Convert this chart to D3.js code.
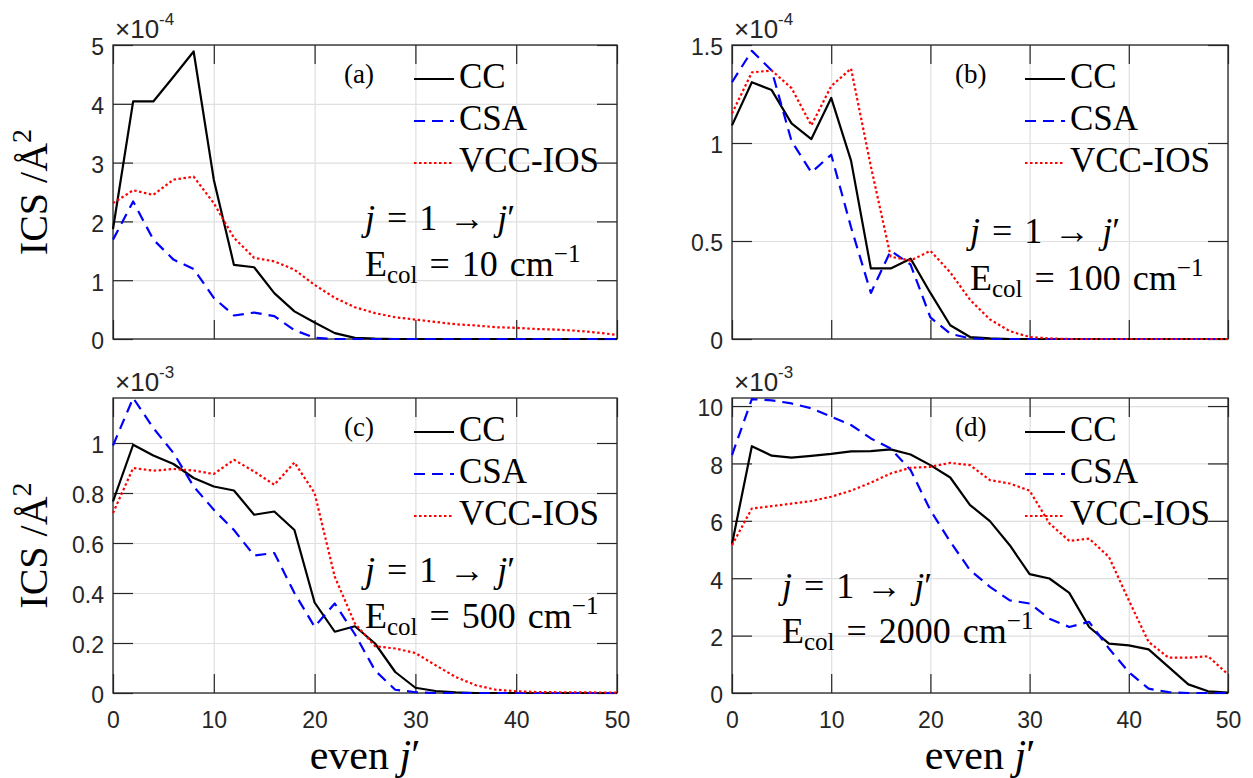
<!DOCTYPE html>
<html><head><meta charset="utf-8">
<script src="https://cdn.jsdelivr.net/npm/d3@7/dist/d3.min.js"></script>
<style>
html,body{margin:0;padding:0;background:#fff;}
svg{display:block;}
text{white-space:pre;}
</style></head><body>
<svg id="chart" width="1253" height="778"></svg>
<script>
// ---------- data ----------
const jEven = [0,2,4,6,8,10,12,14,16,18,20,22,24,26,28,30,32,34,36,38,40,42,44,46,48,50];
const seriesNames = ["CC","CSA","VCC-IOS"];
const panelLabels = ["(a)","(b)","(c)","(d)"];
const energies = ["10","100","500","2000"];
const exponents = ["-4","-4","-3","-3"];
const xTicks = [0,10,20,30,40,50];
const yTicksA = [0,1,2,3,4,5];
const yTicksB = [0,0.5,1,1.5];
const yTicksC = [0,0.2,0.4,0.6,0.8,1];
const yTicksD = [0,2,4,6,8,10];
const yMax = [5, 1.5, 1.18, 10.28];

// panel (a) E=10, x1e-4
const ccA  = [1.87,4.04,4.04,4.46,4.89,2.71,1.26,1.22,0.78,0.47,0.28,0.10,0.02,0.005,0,0,0,0,0,0,0,0,0,0,0,0];
const csaA = [1.69,2.34,1.69,1.35,1.19,0.70,0.40,0.45,0.39,0.15,0.02,0,0,0,0,0,0,0,0,0,0,0,0,0,0,0];
const vccA = [2.31,2.53,2.45,2.71,2.76,2.31,1.72,1.38,1.32,1.18,0.92,0.70,0.54,0.44,0.37,0.33,0.29,0.25,0.23,0.20,0.19,0.17,0.16,0.14,0.11,0.07];
// panel (b) E=100, x1e-4
const ccB  = [1.09,1.31,1.27,1.10,1.02,1.23,0.91,0.36,0.36,0.41,0.235,0.07,0.01,0.003,0,0,0,0,0,0,0,0,0,0,0,0];
const csaB = [1.31,1.47,1.37,1.01,0.85,0.94,0.57,0.235,0.45,0.38,0.11,0.027,0.003,0,0,0,0,0,0,0,0,0,0,0,0,0];
const vccB = [1.15,1.36,1.37,1.28,1.09,1.29,1.38,0.88,0.42,0.40,0.45,0.34,0.20,0.10,0.04,0.01,0.003,0,0,0,0,0,0,0,0,0];
// panel (c) E=500, x1e-3
const ccC  = [0.766,0.993,0.95,0.916,0.86,0.826,0.81,0.713,0.726,0.652,0.362,0.245,0.267,0.198,0.084,0.021,0.008,0.003,0,0,0,0,0,0,0,0];
const csaC = [0.99,1.18,1.06,0.96,0.826,0.733,0.652,0.55,0.56,0.40,0.265,0.358,0.235,0.09,0.013,0.003,0,0,0,0,0,0,0,0,0,0];
const vccC = [0.72,0.90,0.889,0.896,0.89,0.876,0.933,0.886,0.833,0.922,0.80,0.465,0.278,0.187,0.178,0.16,0.111,0.064,0.031,0.013,0.007,0.004,0.003,0.003,0.002,0.002];
// panel (d) E=2000, x1e-3
const ccD  = [5.19,8.6,8.27,8.2,8.26,8.33,8.42,8.43,8.49,8.31,7.94,7.51,6.55,5.99,5.15,4.14,3.99,3.49,2.30,1.72,1.66,1.52,0.91,0.30,0.06,0.01];
const csaD = [8.29,10.24,10.2,10.09,9.92,9.63,9.34,8.87,8.52,7.77,6.37,5.27,4.28,3.70,3.23,3.12,2.59,2.30,2.48,1.55,0.73,0.15,0.03,0,0,0];
const vccD = [5.15,6.43,6.51,6.6,6.69,6.84,7.05,7.33,7.65,7.85,7.88,8.02,7.94,7.42,7.30,7.05,5.91,5.30,5.38,4.74,3.23,1.78,1.23,1.23,1.28,0.65];

// ---------- layout ----------
const W = 1253, H = 778;
const boxes = [
  {l:113, r:617,  t:45,  b:339},
  {l:732, r:1228, t:45,  b:339},
  {l:113, r:617,  t:398, b:693},
  {l:732, r:1228, t:398, b:693}
];
const annot = [ // x offset from left, baselines offset from top
  {dx:252, y1:185, y2:231},
  {dx:238, y1:198, y2:245},
  {dx:252, y1:184, y2:230},
  {dx:50,  y1:200, y2:245}
];
const panels = [
  {series:[ccA,csaA,vccA], ticks:yTicksA},
  {series:[ccB,csaB,vccB], ticks:yTicksB},
  {series:[ccC,csaC,vccC], ticks:yTicksC},
  {series:[ccD,csaD,vccD], ticks:yTicksD}
];
const styles = [
  {color:"#000000", dash:null},
  {color:"#0000ff", dash:"11,7"},
  {color:"#ff0000", dash:"2.5,2.5"}
];
const AX = "#262626", GRID = "#dfdfdf";
const serif = "Liberation Serif, Times New Roman, serif";
const sans = "Liberation Sans, Arial, Helvetica, sans-serif";

const svg = d3.select("#chart");
svg.append("rect").attr("width",W).attr("height",H).attr("fill","#fff");
const fmt = d => String(+d.toFixed(2));

function serifText(sel, size) {
  return sel.attr("font-family", serif).attr("font-size", size).attr("fill", "#000");
}

panels.forEach((p, i) => {
  const bx = boxes[i];
  const w = bx.r - bx.l, h = bx.b - bx.t;
  const x = d3.scaleLinear().domain([0,50]).range([0,w]);
  const y = d3.scaleLinear().domain([0,yMax[i]]).range([h,0]);
  const g = svg.append("g").attr("transform",`translate(${bx.l},${bx.t})`);
  const isBottom = i >= 2, isLeft = i % 2 === 0;

  // grid
  const gx = g.append("g").attr("transform",`translate(0,${h})`)
    .call(d3.axisBottom(x).tickValues(xTicks).tickSize(-h).tickFormat(""));
  const gy = g.append("g")
    .call(d3.axisLeft(y).tickValues(p.ticks).tickSize(-w).tickFormat(""));
  [gx,gy].forEach(a => { a.select(".domain").remove(); a.selectAll("line").attr("stroke",GRID).attr("stroke-width",1.2); });

  // axes with inward ticks
  const left = g.append("g").call(d3.axisLeft(y).tickValues(p.ticks).tickSize(-20).tickSizeOuter(0).tickPadding(9).tickFormat(fmt));
  const right = g.append("g").attr("transform",`translate(${w},0)`).call(d3.axisRight(y).tickValues(p.ticks).tickSize(-20).tickSizeOuter(0).tickFormat(""));
  const bottom = g.append("g").attr("transform",`translate(0,${h})`).call(d3.axisBottom(x).tickValues(xTicks).tickSize(-19).tickSizeOuter(0).tickPadding(19).tickFormat(isBottom ? fmt : ""));
  const top = g.append("g").call(d3.axisTop(x).tickValues(xTicks).tickSize(-19).tickSizeOuter(0).tickFormat(""));
  [left,right,bottom,top].forEach(a => {
    a.select(".domain").remove();
    a.attr("font-family", sans).attr("font-size", 23);
    a.selectAll("line").attr("stroke",AX).attr("stroke-width",1.2);
    a.selectAll("text").attr("fill",AX);
  });
  left.selectAll("text").attr("dy","0.43em");
  g.append("rect").attr("x",0).attr("y",0).attr("width",w).attr("height",h)
    .attr("fill","none").attr("stroke",AX).attr("stroke-width",1.3);

  // exponent label
  const ex = g.append("text").attr("x",2).attr("y",-7).attr("fill",AX)
    .attr("font-family",sans).attr("font-size",26);
  ex.append("tspan").text("×10");
  ex.append("tspan").attr("dy",-13).attr("font-size",17).text(exponents[i]);

  // data
  const clipId = "clip"+i;
  g.append("clipPath").attr("id",clipId).append("rect").attr("x",-1).attr("y",-1).attr("width",w+2).attr("height",h+2);
  const line = d3.line().x((d,k) => x(jEven[k])).y(d => y(d));
  p.series.forEach((s, k) => {
    g.append("path").datum(s).attr("d",line).attr("clip-path",`url(#${clipId})`)
      .attr("fill","none").attr("stroke",styles[k].color).attr("stroke-width",2.2)
      .attr("stroke-dasharray",styles[k].dash).attr("stroke-linejoin","round");
  });

  // panel label
  serifText(g.append("text").attr("x",w-273).attr("y",38), 27).text(panelLabels[i]);

  // legend
  seriesNames.forEach((n, k) => {
    const by = 43 + k*42;
    g.append("line").attr("x1",w-203).attr("x2",w-163).attr("y1",by-9).attr("y2",by-9)
      .attr("stroke",styles[k].color).attr("stroke-width",2.2).attr("stroke-dasharray",styles[k].dash);
    serifText(g.append("text").attr("x",w-158).attr("y",by), 35).text(n);
  });

  // annotation
  const an = annot[i];
  const t1 = serifText(g.append("text").attr("x",an.dx).attr("y",an.y1), 36).attr("word-spacing",3);
  t1.append("tspan").attr("font-style","italic").text("j");
  t1.append("tspan").text(" = 1 → ");
  t1.append("tspan").attr("font-style","italic").text("j");
  t1.append("tspan").text("′");
  const t2 = serifText(g.append("text").attr("x",an.dx).attr("y",an.y2), 36).attr("word-spacing",3);
  t2.append("tspan").text("E");
  t2.append("tspan").attr("dy",7).attr("font-size",25).text("col");
  t2.append("tspan").attr("dy",-7).text(" = " + energies[i] + " cm");
  t2.append("tspan").attr("dy",-14).attr("font-size",25).text("−1");

  // axis labels
  if (isLeft) {
    const yl = serifText(svg.append("text").attr("transform",`translate(${bx.l-66},${(bx.t+bx.b)/2}) rotate(-90)`)
      .attr("text-anchor","middle"), 40);
    yl.append("tspan").text("ICS /Å");
    yl.append("tspan").attr("dy",-16).attr("font-size",28).text("2");
  }
  if (isBottom) {
    const xl = serifText(svg.append("text").attr("x",(bx.l+bx.r)/2).attr("y",769).attr("text-anchor","middle"), 42);
    xl.append("tspan").text("even ");
    xl.append("tspan").attr("font-style","italic").text("j");
    xl.append("tspan").text("′");
  }
});
</script>
</body></html>
